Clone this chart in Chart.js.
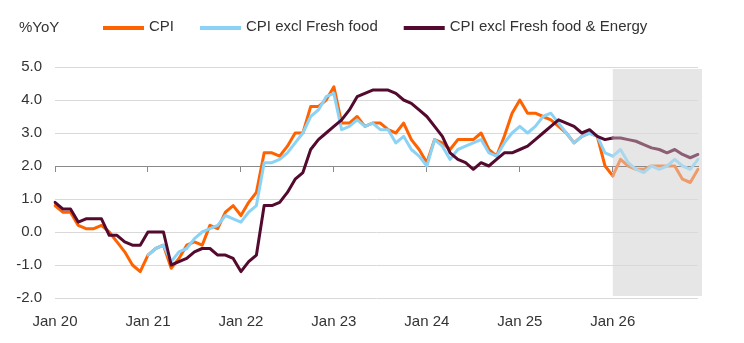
<!DOCTYPE html>
<html>
<head>
<meta charset="utf-8">
<script src="https://cdn.jsdelivr.net/npm/chart.js@4.4.1/dist/chart.umd.min.js"></script>
<style>
  html, body { margin: 0; padding: 0; background: #fff; }
  #wrap { width: 744px; height: 343px; }
</style>
</head>
<body>
<div id="wrap"><canvas id="cpiChart" width="744" height="343"></canvas></div>
<script>
// categories: monthly, Jan 2020 - Dec 2026
const years = ['20', '21', '22', '23', '24', '25', '26'];
const monthNames = ['Jan', 'Feb', 'Mar', 'Apr', 'May', 'Jun', 'Jul', 'Aug', 'Sep', 'Oct', 'Nov', 'Dec'];
const yearTicks = ['Jan 20', 'Jan 21', 'Jan 22', 'Jan 23', 'Jan 24', 'Jan 25', 'Jan 26'];
const forecastFrom = 'Jan 26';

// %YoY
const cpi = [
  0.8, 0.6, 0.6, 0.2, 0.1, 0.1, 0.2, 0.0, -0.3, -0.6, -1.0, -1.2,
  -0.7, -0.5, -0.4, -1.1, -0.8, -0.4, -0.3, -0.4, 0.2, 0.1, 0.6, 0.8,
  0.5, 0.9, 1.2, 2.4, 2.4, 2.3, 2.6, 3.0, 3.0, 3.8, 3.8, 4.0,
  4.4, 3.3, 3.3, 3.5, 3.2, 3.3, 3.3, 3.1, 3.0, 3.3, 2.8, 2.5,
  2.1, 2.8, 2.7, 2.5, 2.8, 2.8, 2.8, 3.0, 2.5, 2.3, 2.9, 3.6,
  4.0, 3.6, 3.6, 3.5, 3.4, 3.2, 3.0, 2.7, 2.9, 3.0, 2.9, 2.0,
  1.7, 2.2, 2.0, 1.9, 1.9, 2.0, 2.0, 2.0, 2.0, 1.6, 1.5, 1.9
];
const cpiExFresh = [
  null, null, null, null, null, null, null, null, null, null, null, null,
  -0.7, -0.5, -0.4, -0.9, -0.6, -0.5, -0.2, 0.0, 0.1, 0.2, 0.5, 0.4,
  0.3, 0.6, 0.8, 2.1, 2.1, 2.2, 2.4, 2.7, 3.0, 3.5, 3.7, 4.1,
  4.2, 3.1, 3.2, 3.4, 3.2, 3.3, 3.1, 3.1, 2.7, 2.9, 2.5, 2.3,
  2.0, 2.8, 2.6, 2.2, 2.5, 2.6, 2.7, 2.8, 2.4, 2.3, 2.7, 3.0,
  3.2, 3.0, 3.2, 3.5, 3.6, 3.3, 3.0, 2.7, 2.9, 3.0, 2.9, 2.4,
  2.3, 2.5, 2.1, 1.9, 1.8, 2.0, 1.9, 2.0, 2.2, 2.0, 1.9, 2.2
];
const cpiExFreshEnergy = [
  0.9, 0.7, 0.7, 0.3, 0.4, 0.4, 0.4, -0.1, -0.1, -0.3, -0.4, -0.4,
  0.0, 0.0, 0.0, -1.0, -0.9, -0.8, -0.6, -0.5, -0.5, -0.7, -0.7, -0.8,
  -1.2, -0.9, -0.7, 0.8, 0.8, 0.9, 1.2, 1.6, 1.8, 2.5, 2.8, 3.0,
  3.2, 3.4, 3.7, 4.1, 4.2, 4.3, 4.3, 4.3, 4.2, 4.0, 3.9, 3.7,
  3.5, 3.2, 2.9, 2.4, 2.2, 2.1, 1.9, 2.1, 2.0, 2.2, 2.4, 2.4,
  2.5, 2.6, 2.8, 3.0, 3.2, 3.4, 3.3, 3.2, 3.0, 3.1, 2.9, 2.8,
  2.85, 2.85, 2.8, 2.75, 2.65, 2.55, 2.5, 2.4, 2.5, 2.35, 2.25, 2.35
];

const labels = [];
years.forEach(y => monthNames.forEach(m => labels.push(m + ' ' + y)));
const fcIdx = labels.indexOf(forecastFrom);

const textColor = '#333333';
const tickFont = { family: '"Liberation Sans", Arial, sans-serif', size: 15 };
const legendFont = '15px "Liberation Sans", Arial, sans-serif';

// lighter colour once the line runs into the forecast
const fc = (normal, faded) => ({
  borderColor: normal,
  segment: {
    borderColor: ctx => (ctx.p0DataIndex >= fcIdx ? faded : undefined)
  }
});

// grey forecast box behind the lines
const shadePlugin = {
  id: 'shade',
  beforeDraw(chart) {
    const { ctx, chartArea, scales } = chart;
    const x0 = scales.x.getPixelForValue(fcIdx);
    ctx.save();
    ctx.fillStyle = '#e6e6e6';
    ctx.fillRect(x0, chartArea.top + 2, chartArea.right + 4 - x0, chartArea.bottom - chartArea.top - 4);
    ctx.restore();
  }
};

// "%YoY" and legend row on top
const headerPlugin = {
  id: 'header',
  afterDraw(chart) {
    const ctx = chart.ctx;
    ctx.save();
    ctx.font = legendFont;
    ctx.textBaseline = 'middle';
    ctx.fillStyle = textColor;
    ctx.fillText('%YoY', 19, 28);
    let x = 103;
    chart.data.datasets.forEach(ds => {
      ctx.fillStyle = ds.borderColor;
      ctx.fillRect(x, 26, 41, 4);
      ctx.fillStyle = textColor;
      ctx.fillText(ds.label, x + 46, 27);
      x += 46 + ctx.measureText(ds.label).width + 26;
    });
    ctx.restore();
  }
};

new Chart(document.getElementById('cpiChart'), {
  type: 'line',
  data: {
    labels,
    datasets: [
      { label: 'CPI', data: cpi, order: 3, ...fc('#ff6200', '#ee9b6c') },
      { label: 'CPI excl Fresh food', data: cpiExFresh, order: 2, ...fc('#8bd3f6', '#abd7ec') },
      { label: 'CPI excl Fresh food & Energy', data: cpiExFreshEnergy, order: 1, ...fc('#530a2e', '#8d5f74') }
    ]
  },
  options: {
    responsive: false,
    animation: false,
    devicePixelRatio: 1,
    layout: { padding: { top: 67, right: 46, left: 0, bottom: 0 } },
    elements: {
      line: { borderWidth: 3, tension: 0, borderJoinStyle: 'round', borderCapStyle: 'round' },
      point: { radius: 0 }
    },
    plugins: {
      legend: { display: false },
      tooltip: { enabled: false }
    },
    scales: {
      y: {
        min: -2,
        max: 5,
        afterFit: s => { s.width = 55; },
        border: { display: false },
        grid: {
          drawTicks: false,
          color: ctx => (ctx.tick && ctx.tick.value === 2 ? '#8a8a8a' : '#d9d9d9'),
          lineWidth: 1
        },
        ticks: {
          stepSize: 1,
          padding: 13,
          color: textColor,
          font: tickFont,
          callback: v => v.toFixed(1)
        }
      },
      x: {
        afterFit: s => { s.height = 45; },
        border: { display: false },
        grid: { display: false },
        ticks: {
          autoSkip: false,
          maxRotation: 0,
          padding: 7,
          color: textColor,
          font: tickFont,
          callback: (v, i) => (yearTicks.includes(labels[i]) ? labels[i] : '')
        }
      },
      // axis line drawn through 2.0 with yearly tick marks
      x2: {
        type: 'category',
        position: { y: 2 },
        afterFit: s => { s.height = 0; },
        border: { display: true, color: '#8a8a8a', width: 1 },
        grid: {
          drawOnChartArea: false,
          drawTicks: true,
          tickLength: 5,
          tickColor: ctx => (yearTicks.includes(labels[ctx.index]) ? '#8a8a8a' : 'rgba(0,0,0,0)')
        },
        ticks: { display: false, autoSkip: false }
      }
    }
  },
  plugins: [shadePlugin, headerPlugin]
});
</script>
</body>
</html>
